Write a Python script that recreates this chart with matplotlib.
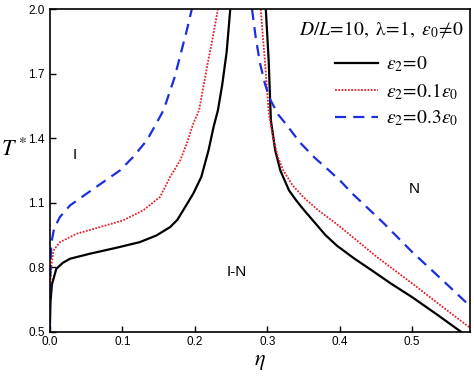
import matplotlib

matplotlib.use("Agg")
import matplotlib.pyplot as plt  # noqa: E402
from matplotlib.lines import Line2D  # noqa: E402

plt.rcParams["mathtext.fontset"] = "stix"
plt.rcParams["font.family"] = ["Liberation Sans", "DejaVu Sans"]

# values (eta, T*)
black_left_eta = [0.0, 0.001, 0.003, 0.009, 0.018, 0.028, 0.055, 0.092, 0.124,
                  0.147, 0.166, 0.176, 0.184, 0.198, 0.209, 0.219, 0.226,
                  0.232, 0.238, 0.244, 0.249]
black_left_T = [0.5, 0.64, 0.72, 0.792, 0.82, 0.839, 0.862, 0.890, 0.916,
                0.947, 0.986, 1.02, 1.064, 1.142, 1.219, 1.343, 1.452,
                1.53, 1.65, 1.80, 2.0]
black_right_eta = [0.298, 0.300, 0.302, 0.305, 0.311, 0.318, 0.330, 0.340,
                   0.351, 0.363, 0.380, 0.396, 0.420, 0.442, 0.470, 0.5,
                   0.534, 0.567]
black_right_T = [2.0, 1.88, 1.76, 1.483, 1.343, 1.25, 1.157, 1.110, 1.064,
                 1.017, 0.95, 0.90, 0.84, 0.79, 0.725, 0.66, 0.58, 0.5]

red_left_eta = [0.0, 0.0005, 0.002, 0.005, 0.014, 0.037, 0.069, 0.101, 0.129,
                0.152, 0.166, 0.180, 0.189, 0.198, 0.206, 0.212, 0.218,
                0.225, 0.232]
red_left_T = [0.5, 0.70, 0.80, 0.877, 0.916, 0.955, 0.986, 1.017, 1.064,
              1.126, 1.219, 1.297, 1.374, 1.468, 1.53, 1.64, 1.75, 1.87, 2.0]
red_right_eta = [0.291, 0.294, 0.297, 0.302, 0.308, 0.315, 0.322, 0.335,
                 0.350, 0.370, 0.396, 0.425, 0.452, 0.5, 0.54, 0.579]
red_right_T = [2.0, 1.87, 1.75, 1.52, 1.40, 1.31, 1.25, 1.18, 1.125, 1.065,
               1.0, 0.92, 0.845, 0.724, 0.62, 0.52]

blue_left_eta = [0.0, 0.0005, 0.001, 0.002, 0.006, 0.014, 0.028, 0.051, 0.074,
                 0.097, 0.115, 0.134, 0.147, 0.157, 0.165, 0.172, 0.182,
                 0.189, 0.196]
blue_left_T = [0.5, 0.70, 0.80, 0.909, 0.98, 1.033, 1.087, 1.142, 1.196,
               1.25, 1.312, 1.39, 1.468, 1.53, 1.61, 1.68, 1.81, 1.90, 2.0]
blue_right_eta = [0.279, 0.284, 0.29, 0.297, 0.304, 0.315, 0.327, 0.345,
                  0.365, 0.385, 0.40, 0.417, 0.44, 0.461, 0.5, 0.54, 0.579]
blue_right_T = [2.0, 1.87, 1.748, 1.65, 1.58, 1.51, 1.46, 1.38, 1.31, 1.25,
                1.204, 1.143, 1.07, 1.003, 0.87, 0.745, 0.621]

xticks = [0.0, 0.1, 0.2, 0.3, 0.4, 0.5]
yticks = [0.5, 0.8, 1.1, 1.4, 1.7, 2.0]

fig = plt.figure(figsize=(4.74, 3.76), dpi=100)
ax = fig.add_axes([0.105, 0.118, 0.887, 0.858])

black = dict(color="black", lw=1.6, ls="-")
red = dict(color="#e8202a", lw=1.3, ls=(0, (1, 0.8)))
blue = dict(color="#1a2ee0", lw=1.6, ls=(0, (5, 3.2)))

ax.plot(black_left_eta, black_left_T, **black)
ax.plot(black_right_eta, black_right_T, **black)
ax.plot(red_left_eta, red_left_T, **red)
ax.plot(red_right_eta, red_right_T, **red)
ax.plot(blue_left_eta, blue_left_T, **blue)
ax.plot(blue_right_eta, blue_right_T, **blue)

ax.set_xlim(0, 0.58)
ax.set_ylim(0.5, 2.0)
ax.set_xticks(xticks)
ax.set_yticks(yticks)
ax.set_xticklabels([f"{v:.1f}" for v in xticks])
ax.set_yticklabels([f"{v:.1f}" for v in yticks])
ax.tick_params(direction="in", length=4, width=1, labelsize=8.5,
               top=False, right=False)
for s in ax.spines.values():
    s.set_linewidth(1.2)

ax.set_xlabel(r"$\eta$", fontsize=16, labelpad=2)
ax.set_ylabel(r"$T^*$", fontsize=16, rotation=0, labelpad=10)
ax.yaxis.set_label_coords(-0.085, 0.53)

ax.text(0.035, 1.32, "I", fontsize=11, ha="center", va="center")
ax.text(0.258, 0.775, "I-N", fontsize=11, ha="center", va="center")
ax.text(0.503, 1.165, "N", fontsize=11, ha="center", va="center")

ax.text(0.985, 0.935, r"$D/L\!=\!10,\ \mathrm{\lambda\!=\!1},\ \varepsilon_0\!\neq\!0$",
        transform=ax.transAxes, fontsize=14, ha="right", va="center")

handles = [Line2D([], [], **black), Line2D([], [], **red),
           Line2D([], [], **blue)]
labels = [r"$\varepsilon_2\!=\!0$", r"$\varepsilon_2\!=\!0.1\varepsilon_0$",
          r"$\varepsilon_2\!=\!0.3\varepsilon_0$"]
ax.legend(handles, labels, loc="upper right", bbox_to_anchor=(1.0, 0.895),
          frameon=False, fontsize=14, handlelength=2.2, handletextpad=0.45,
          labelspacing=0.35, borderaxespad=0.2)

fig.savefig("out.png", dpi=100)
